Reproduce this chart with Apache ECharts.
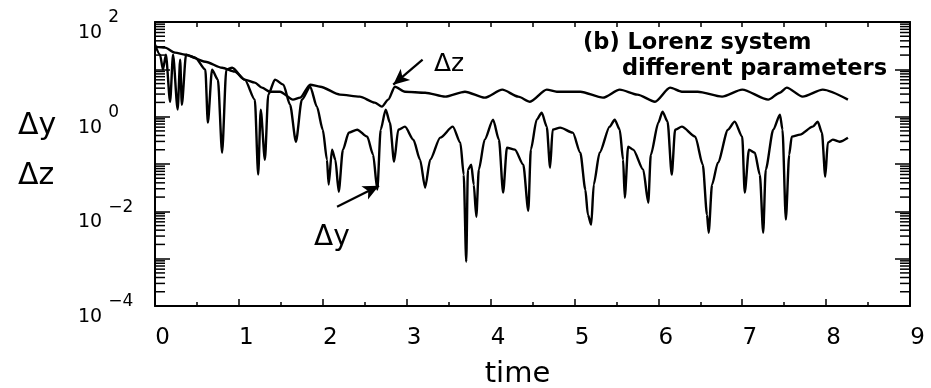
<!DOCTYPE html>
<html><head><meta charset="utf-8">
<script src="https://cdn.jsdelivr.net/npm/echarts@6/dist/echarts.min.js"></script>
<style>html,body{margin:0;padding:0;background:#fff}#c{width:931px;height:388px}</style>
</head><body><div id="c"></div>
<script>
// ---- data ----
const xTickLabels = ['0','1','2','3','4','5','6','7','8','9'];
const dzTime = [0,0.12,0.24,0.36,0.60,0.80,0.95,1.07,1.19,1.275,1.37,1.49,1.645,1.73,1.85,1.97,2.205,2.44,2.62,2.705,2.78,2.86,2.98,3.22,3.46,3.695,3.93,4.14,4.33,4.47,4.67,4.79,5.07,5.34,5.54,5.75,5.96,6.14,6.28,6.47,6.76,7.00,7.31,7.45,7.53,7.72,7.96,8.26];
const dzValue = [30.1,28.7,22.5,20.4,14.5,10.8,8.93,6.05,5.23,4.10,3.37,3.37,2.29,2.52,4.74,4.30,2.92,2.65,1.98,1.63,2.29,4.30,3.37,3.21,2.65,3.37,2.52,3.72,2.65,2.07,3.72,3.37,3.37,2.52,3.72,2.92,2.07,4.10,3.37,3.37,2.65,3.72,2.29,3.21,4.10,2.65,3.72,2.29];
const dyTime = [0,0.06,0.095,0.13,0.18,0.215,0.27,0.30,0.32,0.37,0.48,0.60,0.63,0.68,0.75,0.80,0.85,0.92,1.07,1.19,1.23,1.26,1.31,1.35,1.43,1.53,1.61,1.68,1.75,1.85,1.93,2.00,2.05,2.07,2.11,2.15,2.19,2.24,2.31,2.41,2.53,2.60,2.65,2.69,2.75,2.80,2.85,2.90,2.98,3.08,3.16,3.22,3.28,3.40,3.55,3.64,3.68,3.71,3.73,3.77,3.80,3.83,3.86,3.93,4.03,4.10,4.15,4.195,4.29,4.39,4.45,4.48,4.55,4.61,4.67,4.71,4.74,4.83,4.98,5.07,5.13,5.16,5.20,5.23,5.30,5.42,5.48,5.54,5.58,5.60,5.64,5.70,5.82,5.88,5.91,6.00,6.05,6.11,6.16,6.20,6.28,6.44,6.53,6.58,6.60,6.64,6.71,6.83,6.91,7.00,7.03,7.08,7.15,7.21,7.25,7.28,7.37,7.45,7.48,7.52,7.56,7.59,7.69,7.84,7.90,7.95,7.99,8.02,8.08,8.16,8.26];
const dyValue = [33.2,20.4,9.84,20.4,2.07,20.4,1.41,16.0,1.79,20.4,17.6,9.84,0.747,9.84,6.05,0.173,9.84,10.8,6.05,2.29,0.0595,1.41,0.123,2.92,6.05,4.74,1.79,0.296,2.29,4.30,1.63,0.531,0.123,0.0366,0.201,0.123,0.0260,0.201,0.459,0.531,0.378,0.157,0.0287,0.531,1.41,0.747,0.112,0.531,0.615,0.327,0.123,0.0316,0.123,0.360,0.615,0.282,0.0595,0.000863,0.0759,0.0968,0.0366,0.00771,0.0759,0.327,0.865,0.327,0.0248,0.221,0.201,0.0968,0.0103,0.201,0.865,1.21,0.615,0.0836,0.531,0.586,0.459,0.173,0.0287,0.00850,0.00523,0.0366,0.173,0.615,0.865,0.531,0.123,0.0194,0.232,0.201,0.0759,0.0152,0.157,0.747,1.28,0.784,0.0595,0.531,0.615,0.378,0.0968,0.00850,0.00354,0.0366,0.107,0.531,0.784,0.378,0.0248,0.201,0.173,0.0595,0.00354,0.0759,0.531,1.10,0.531,0.00667,0.157,0.378,0.417,0.615,0.784,0.459,0.0540,0.282,0.327,0.296,0.360];
const dzArrowFrom = [3.19, 16.0];
const dzArrowTo = [2.84, 4.74];
const dyArrowFrom = [2.17, 0.0125];
const dyArrowTo = [2.67, 0.0348];
const yMinorDecades = [-4,-3,-2,-1,0,1];
const yMinorSteps = [2,3,4,5,6,7,8,9];

// ---- build ----
const FONT = 'DejaVu Sans';
const dzData = dzTime.map((t,i)=>[t, dzValue[i]]);
const dyData = dyTime.map((t,i)=>[t, dyValue[i]]);
const minorTickData = [];
yMinorDecades.forEach(d => yMinorSteps.forEach(k => minorTickData.push([0, k*Math.pow(10,d)])));

const axisLineStyle = {color:'#000', width:2};
const tickStyle = {color:'#000', width:1.5};

const chart = echarts.init(document.getElementById('c'), null, {renderer:'canvas'});
const option = {
  animation: false,
  backgroundColor: '#fff',
  grid: {left:155, right:21, top:22, bottom:82, containLabel:false, outerBoundsMode:'none'},
  xAxis: [
    {type:'value', min:0, max:9, interval:1, position:'bottom',
     axisLine:{show:true, onZero:false, lineStyle:axisLineStyle},
     axisTick:{show:true, inside:true, length:7, lineStyle:tickStyle},
     minorTick:{show:true, splitNumber:2, length:4, lineStyle:tickStyle},
     splitLine:{show:false}, minorSplitLine:{show:false},
     axisLabel:{color:'#000', fontFamily:FONT, fontSize:23, margin:21, padding:[0,0,0,15],
       formatter: v => xTickLabels[Math.round(v)]},
     name:'time', nameLocation:'middle', nameGap:54,
     nameTextStyle:{color:'#000', fontFamily:FONT, fontSize:29, padding:[0,30,0,0]}},
    {type:'value', min:0, max:9, interval:0.5, position:'top',
     axisLine:{show:true, onZero:false, lineStyle:axisLineStyle},
     axisTick:{show:true, inside:true, length:5, lineStyle:tickStyle},
     axisLabel:{show:false}, splitLine:{show:false}}
  ],
  yAxis: [
    {type:'log', logBase:10, min:1e-4, max:1e2, splitNumber:6, position:'left',
     axisLine:{show:true, onZero:false, lineStyle:axisLineStyle},
     axisTick:{show:true, inside:true, length:15, lineStyle:tickStyle},
     splitLine:{show:false},
     axisLabel:{show:true, align:'left', margin:77, color:'#000',
       formatter: function(v){
         const e = Math.round(Math.log10(v));
         if (e % 2 !== 0) return '';
         const s = e < 0 ? '\u2212' + (-e) : String(e);
         return '{b|10}{s|' + s + '}';
       },
       rich:{
         b:{fontFamily:FONT, fontSize:19, color:'#000', lineHeight:20, padding:[22,0,0,0], verticalAlign:'middle'},
         s:{fontFamily:FONT, fontSize:17, color:'#000', lineHeight:20, padding:[0,0,8,6], verticalAlign:'middle'}
       }}},
    {type:'log', logBase:10, min:1e-4, max:1e2, splitNumber:6, position:'right',
     axisLine:{show:true, onZero:false, lineStyle:axisLineStyle},
     axisTick:{show:true, inside:true, length:15, lineStyle:tickStyle},
     splitLine:{show:false}, axisLabel:{show:false}}
  ],
  series: [
    {name:'Δz', type:'line', xAxisIndex:0, yAxisIndex:0, data:dzData, showSymbol:false, symbol:'none',
     smooth:0.25, smoothMonotone:'x',
     lineStyle:{color:'#000', width:2.4}, z:3,
     markLine:{silent:true, symbol:['none','arrow'], symbolSize:[11,16], animation:false,
       lineStyle:{color:'#000', width:2.2, type:'solid'}, label:{show:false},
       data:[[{coord:dzArrowFrom},{coord:dzArrowTo}]]}},
    {name:'Δy', type:'line', xAxisIndex:0, yAxisIndex:0, data:dyData, showSymbol:false, symbol:'none',
     smooth:0.25, smoothMonotone:'x',
     lineStyle:{color:'#000', width:2.4}, z:3,
     markLine:{silent:true, symbol:['none','arrow'], symbolSize:[11,16], animation:false,
       lineStyle:{color:'#000', width:2.2, type:'solid'}, label:{show:false},
       data:[[{coord:dyArrowFrom},{coord:dyArrowTo}]]}},
    {type:'custom', xAxisIndex:0, yAxisIndex:0, silent:true, clip:false, z:5,
     data:minorTickData, encode:{x:0, y:1},
     renderItem: function(params, api){
       const y = api.coord([0, api.value(1)])[1];
       const cs = params.coordSys;
       return {type:'group', children:[
         {type:'line', shape:{x1:cs.x, y1:y, x2:cs.x+10, y2:y}, style:{stroke:'#000', lineWidth:1.5}},
         {type:'line', shape:{x1:cs.x+cs.width-10, y1:y, x2:cs.x+cs.width, y2:y}, style:{stroke:'#000', lineWidth:1.5}}
       ]};
     }}
  ],
  graphic: [
    {type:'text', x:583, y:43, silent:true, style:{text:'(b) Lorenz system', font:'bold 22.5px "DejaVu Sans"', fill:'#000', verticalAlign:'middle', textVerticalAlign:'middle'}},
    {type:'text', x:622, y:69, silent:true, style:{text:'different parameters', font:'bold 22.5px "DejaVu Sans"', fill:'#000', verticalAlign:'middle', textVerticalAlign:'middle'}},
    {type:'text', x:18, y:126, silent:true, style:{text:'Δy', font:'30px "DejaVu Sans"', fill:'#000', verticalAlign:'middle', textVerticalAlign:'middle'}},
    {type:'text', x:18, y:176, silent:true, style:{text:'Δz', font:'30px "DejaVu Sans"', fill:'#000', verticalAlign:'middle', textVerticalAlign:'middle'}},
    {type:'text', x:434, y:64, silent:true, style:{text:'Δz', font:'25px "DejaVu Sans"', fill:'#000', verticalAlign:'middle', textVerticalAlign:'middle'}},
    {type:'text', x:314, y:238, silent:true, style:{text:'Δy', font:'28px "DejaVu Sans"', fill:'#000', verticalAlign:'middle', textVerticalAlign:'middle'}}
  ]
};
chart.setOption(option);
</script>
</body></html>
